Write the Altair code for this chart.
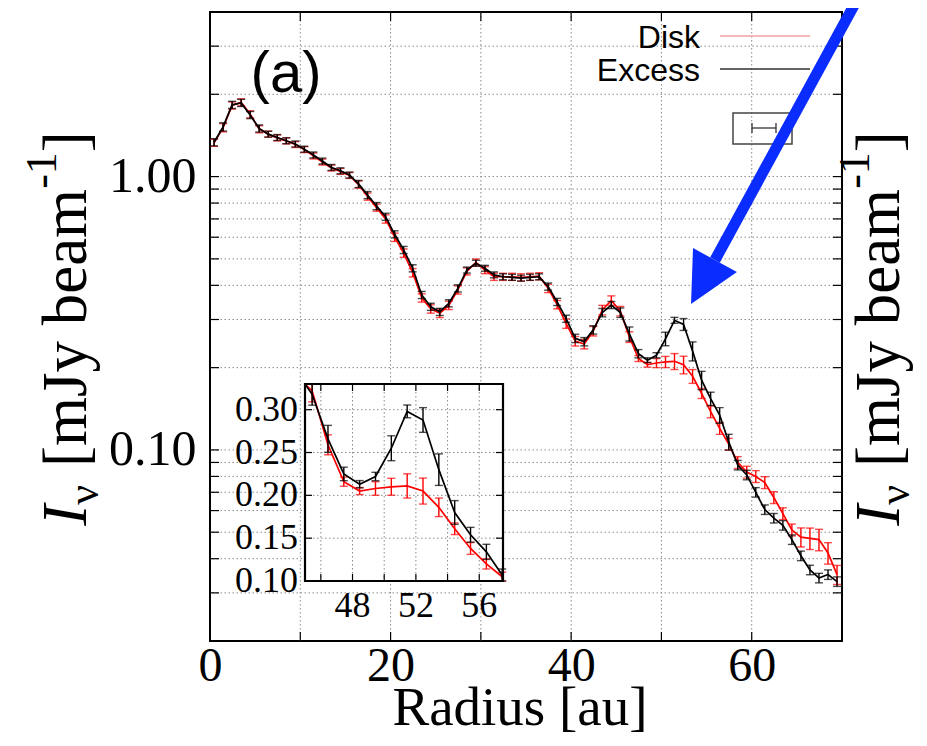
import altair as alt
import pandas as pd

# ---------------- data ----------------
RADIUS = [0.45, 1.45, 2.45, 3.45, 4.45, 5.45, 6.45, 7.45, 8.45, 9.45,
          10.45, 11.45, 12.45, 13.45, 14.45, 15.45, 16.45, 17.45, 18.45, 19.45,
          20.45, 21.45, 22.45, 23.45, 24.45, 25.45, 26.45, 27.45, 28.45, 29.45,
          30.45, 31.45, 32.45, 33.45, 34.45, 35.45, 36.45, 37.45, 38.45, 39.45,
          40.45, 41.45, 42.45, 43.45, 44.45, 45.45, 46.45, 47.45, 48.45, 49.45,
          50.45, 51.45, 52.45, 53.45, 54.45, 55.45, 56.45, 57.45, 58.45, 59.45,
          60.45, 61.45, 62.45, 63.45, 64.45, 65.45, 66.45, 67.45, 68.45, 69.45]

EXCESS = [1.335, 1.52, 1.83, 1.86, 1.68, 1.50, 1.43, 1.39, 1.353, 1.316,
          1.26, 1.20, 1.14, 1.08, 1.05, 1.013, 0.94, 0.856, 0.78, 0.713,
          0.615, 0.539, 0.462, 0.369, 0.334, 0.320, 0.344, 0.390, 0.455, 0.482,
          0.462, 0.437, 0.430, 0.428, 0.425, 0.428, 0.430, 0.396, 0.348, 0.302,
          0.256, 0.249, 0.275, 0.318, 0.339, 0.318, 0.266, 0.225, 0.213, 0.222,
          0.255, 0.298, 0.288, 0.230, 0.180, 0.154, 0.134, 0.107, 0.088, 0.081,
          0.070, 0.0605, 0.0563, 0.053, 0.047, 0.041, 0.0364, 0.034, 0.035, 0.033]

DISK = [1.33, 1.51, 1.82, 1.87, 1.69, 1.49, 1.43, 1.385, 1.35, 1.31,
        1.255, 1.19, 1.13, 1.075, 1.045, 1.01, 0.935, 0.845, 0.77, 0.70,
        0.60, 0.525, 0.445, 0.36, 0.328, 0.316, 0.338, 0.385, 0.45, 0.485,
        0.455, 0.43, 0.43, 0.43, 0.428, 0.43, 0.432, 0.39, 0.34, 0.29,
        0.25, 0.244, 0.272, 0.325, 0.352, 0.322, 0.259, 0.216, 0.205, 0.208,
        0.210, 0.211, 0.205, 0.186, 0.161, 0.138, 0.120, 0.105, 0.090, 0.083,
        0.080, 0.076, 0.067, 0.0585, 0.051, 0.048, 0.0475, 0.047, 0.042, 0.035]

# relative (fractional) error-bar half lengths
EXCESS_ERR = [0.03, 0.035, 0.03, 0.03, 0.03, 0.03, 0.025, 0.025, 0.025, 0.025,
              0.025, 0.025, 0.025, 0.025, 0.025, 0.025, 0.03, 0.03, 0.03, 0.03,
              0.03, 0.03, 0.03, 0.03, 0.03, 0.03, 0.03, 0.03, 0.025, 0.025,
              0.025, 0.025, 0.025, 0.025, 0.025, 0.025, 0.025, 0.03, 0.03, 0.03,
              0.035, 0.035, 0.035, 0.035, 0.03, 0.04, 0.059, 0.035, 0.02, 0.022,
              0.057, 0.025, 0.05, 0.08, 0.077, 0.056, 0.066, 0.066, 0.04, 0.04,
              0.04, 0.04, 0.04, 0.04, 0.04, 0.04, 0.04, 0.04, 0.04, 0.04]

DISK_ERR = [0.03, 0.035, 0.03, 0.03, 0.03, 0.03, 0.025, 0.025, 0.025, 0.025,
            0.025, 0.025, 0.025, 0.025, 0.025, 0.025, 0.03, 0.03, 0.03, 0.035,
            0.035, 0.035, 0.035, 0.035, 0.035, 0.035, 0.035, 0.035, 0.03, 0.03,
            0.03, 0.03, 0.03, 0.03, 0.03, 0.03, 0.03, 0.035, 0.035, 0.04,
            0.04, 0.04, 0.04, 0.04, 0.04, 0.04, 0.045, 0.025, 0.02, 0.038,
            0.047, 0.067, 0.074, 0.058, 0.042, 0.05, 0.05, 0.05, 0.05, 0.05,
            0.05, 0.05, 0.05, 0.05, 0.05, 0.08, 0.09, 0.09, 0.09, 0.08]

X_LABELS = [0, 20, 40, 60]
Y_LABELS = [0.1, 1.0]
X_GRID = [10, 20, 30, 40, 50, 60]
Y_GRID = [0.03, 0.04, 0.05, 0.06, 0.07, 0.08, 0.09,
          0.1, 0.2, 0.3, 0.4, 0.5, 0.6, 0.7, 0.8, 0.9, 1.0, 2.0, 3.0]
INSET_X_GRID = [46, 48, 50, 52, 54, 56]
INSET_X_LABELS = [48, 52, 56]
INSET_Y_VALUES = [0.10, 0.15, 0.20, 0.25, 0.30]
INSET_Y_TEXT = ["0.10", "0.15", "0.20", "0.25", "0.30"]
SERIES = ["Disk", "Excess"]
COLORS = ["#ff0000", "#000000"]

rows = []
for name, vals, errs in [("Disk", DISK, DISK_ERR), ("Excess", EXCESS, EXCESS_ERR)]:
    for r, v, e in zip(RADIUS, vals, errs):
        rows.append({"series": name, "r": r, "v": v, "lo": v * (1 - e), "hi": v * (1 + e)})
df = pd.DataFrame(rows)

# ---------------- layout ----------------
W, H = 632, 629
SERIF = "Liberation Serif"
SANS = "Liberation Sans"
GRID = "#8a8a8a"
DASH = [1.5, 2.5]
DUMMY = alt.Data(values=[{"a": 1}])

XS = alt.Scale(domain=[0, 70], nice=False, zero=False)
YS = alt.Scale(type="log", domain=[0.02, 4], nice=False)
X_AX = alt.Axis(values=X_LABELS, format="d", title=None, grid=False, ticks=False, tickSize=0,
                domain=False, labelFont=SERIF, labelFontSize=48, labelColor="black",
                labelPadding=1, labelFlush=False, labelOverlap=False)
Y_AX = alt.Axis(values=Y_LABELS, format=".2f", title=None, grid=False, ticks=False, tickSize=0,
                domain=False, labelFont=SERIF, labelFontSize=50, labelColor="black",
                labelPadding=14, labelOverlap=False)

# inset placed inside the plot area through explicit pixel ranges
IX0, IX1, IY0, IY1 = 95, 293, 372, 569
IXS = alt.Scale(domain=[45, 57.5], range=[IX0, IX1], clamp=True, nice=False, zero=False)
IYS = alt.Scale(domain=[0.10, 0.33], range=[IY1, IY0], clamp=True, nice=False, zero=False)


def series_layers(d_line, d_err, color, xs, ys, xax, yax, cap):
    X = alt.X("r:Q", scale=xs, axis=xax)
    bars = alt.Chart(d_err).mark_rule(color=color, strokeWidth=1.4).encode(
        x=X, y=alt.Y("lo:Q", scale=ys, axis=yax), y2="hi:Q")
    lo = alt.Chart(d_err).mark_tick(color=color, orient="horizontal", size=cap, thickness=1.4).encode(
        x=X, y=alt.Y("lo:Q", scale=ys, axis=yax))
    hi = alt.Chart(d_err).mark_tick(color=color, orient="horizontal", size=cap, thickness=1.4).encode(
        x=X, y=alt.Y("hi:Q", scale=ys, axis=yax))
    line = alt.Chart(d_line).mark_line(color=color, strokeWidth=1.7).encode(
        x=X, y=alt.Y("v:Q", scale=ys, axis=yax))
    return [bars, lo, hi, line]


def label(text, x, y, size, font=SERIF, align="center", baseline="alphabetic",
          angle=0, style="normal", color="black"):
    return alt.Chart(DUMMY).mark_text(
        text=text, font=font, fontSize=size, align=align, baseline=baseline,
        angle=angle, fontStyle=style, color=color).encode(x=alt.value(x), y=alt.value(y))


# ---------------- main panel ----------------
xg = pd.DataFrame({"g": X_GRID})
yg = pd.DataFrame({"g": Y_GRID})
main_layers = [
    alt.Chart(xg).mark_rule(color=GRID, strokeDash=DASH, strokeWidth=1).encode(
        x=alt.X("g:Q", scale=XS, axis=X_AX)),
    alt.Chart(yg).mark_rule(color=GRID, strokeDash=DASH, strokeWidth=1).encode(
        y=alt.Y("g:Q", scale=YS, axis=Y_AX)),
    # inward ticks
    alt.Chart(yg).mark_rule(color="black", strokeWidth=1.2).encode(
        y=alt.Y("g:Q", scale=YS, axis=Y_AX), x=alt.value(0), x2=alt.value(9)),
    alt.Chart(yg).mark_rule(color="black", strokeWidth=1.2).encode(
        y=alt.Y("g:Q", scale=YS, axis=Y_AX), x=alt.value(W - 9), x2=alt.value(W)),
    alt.Chart(xg).mark_rule(color="black", strokeWidth=1.2).encode(
        x=alt.X("g:Q", scale=XS, axis=X_AX), y=alt.value(H - 9), y2=alt.value(H)),
    alt.Chart(xg).mark_rule(color="black", strokeWidth=1.2).encode(
        x=alt.X("g:Q", scale=XS, axis=X_AX), y=alt.value(0), y2=alt.value(9)),
]
for name, color in zip(SERIES, COLORS):
    d = df[df.series == name]
    main_layers += series_layers(d, d, color, XS, YS, X_AX, Y_AX, 8)
main = alt.layer(*main_layers)

# ---------------- inset panel ----------------
inset_layers = [
    alt.Chart(DUMMY).mark_rect(fill="white", strokeWidth=0).encode(
        x=alt.value(IX0), x2=alt.value(IX1), y=alt.value(IY0), y2=alt.value(IY1)),
    alt.Chart(pd.DataFrame({"g": INSET_X_GRID})).mark_rule(color=GRID, strokeDash=DASH, strokeWidth=1).encode(
        x=alt.X("g:Q", scale=IXS, axis=None), y=alt.value(IY0), y2=alt.value(IY1)),
    alt.Chart(pd.DataFrame({"g": INSET_Y_VALUES[1:]})).mark_rule(color=GRID, strokeDash=DASH, strokeWidth=1).encode(
        y=alt.Y("g:Q", scale=IYS, axis=None), x=alt.value(IX0), x2=alt.value(IX1)),
    alt.Chart(pd.DataFrame({"g": INSET_Y_VALUES[1:]})).mark_rule(color="black", strokeWidth=1.2).encode(
        y=alt.Y("g:Q", scale=IYS, axis=None), x=alt.value(IX0), x2=alt.value(IX0 + 7)),
    alt.Chart(pd.DataFrame({"g": INSET_Y_VALUES[1:]})).mark_rule(color="black", strokeWidth=1.2).encode(
        y=alt.Y("g:Q", scale=IYS, axis=None), x=alt.value(IX1 - 7), x2=alt.value(IX1)),
    alt.Chart(pd.DataFrame({"g": INSET_X_GRID})).mark_rule(color="black", strokeWidth=1.2).encode(
        x=alt.X("g:Q", scale=IXS, axis=None), y=alt.value(IY1 - 7), y2=alt.value(IY1)),
    alt.Chart(pd.DataFrame({"g": INSET_X_GRID})).mark_rule(color="black", strokeWidth=1.2).encode(
        x=alt.X("g:Q", scale=IXS, axis=None), y=alt.value(IY0), y2=alt.value(IY0 + 7)),
]
for name, color in zip(SERIES, COLORS):
    d = df[df.series == name]
    d_line = d[(d.r > 44) & (d.r < 59)]
    d_err = d[(d.r > 45) & (d.r < 57.5)]
    inset_layers += series_layers(d_line, d_err, color, IXS, IYS, None, None, 8)
inset_layers += [
    alt.Chart(DUMMY).mark_rect(fillOpacity=0, stroke="black", strokeWidth=2.2).encode(
        x=alt.value(IX0), x2=alt.value(IX1), y=alt.value(IY0), y2=alt.value(IY1)),
    alt.Chart(pd.DataFrame({"val": INSET_Y_VALUES, "lab": INSET_Y_TEXT})).mark_text(
        align="right", baseline="middle", font=SERIF, fontSize=36, color="black").encode(
        y=alt.Y("val:Q", scale=IYS, axis=None), x=alt.value(IX0 - 7), text="lab:N"),
    alt.Chart(pd.DataFrame({"val": INSET_X_LABELS})).mark_text(
        align="center", baseline="middle", font=SERIF, fontSize=36, color="black").encode(
        x=alt.X("val:Q", scale=IXS, axis=None), y=alt.value(IY1 + 25), text=alt.Text("val:Q", format="d")),
]

# ---------------- annotations ----------------
ann = []
# legend
ann.append(label("Disk", 490, 36, 32, font=SANS, align="right"))
ann.append(label("Excess", 490, 69, 32, font=SANS, align="right"))
ann.append(alt.Chart(DUMMY).mark_rule(color="#f4a0a0", strokeWidth=1.5).encode(
    x=alt.value(510), x2=alt.value(600), y=alt.value(24)))
ann.append(alt.Chart(DUMMY).mark_rule(color="#303030", strokeWidth=1.5).encode(
    x=alt.value(510), x2=alt.value(600), y=alt.value(57)))
# error-bar key box
ann.append(alt.Chart(DUMMY).mark_rect(fillOpacity=0, stroke="#444444", strokeWidth=1.5).encode(
    x=alt.value(523), x2=alt.value(582), y=alt.value(101), y2=alt.value(132)))
ann.append(alt.Chart(DUMMY).mark_rule(color="#333333", strokeWidth=1.3).encode(
    x=alt.value(542), x2=alt.value(566), y=alt.value(116)))
ann.append(alt.Chart(DUMMY).mark_rule(color="#333333", strokeWidth=1.3).encode(
    x=alt.value(542), y=alt.value(111), y2=alt.value(121)))
ann.append(alt.Chart(DUMMY).mark_rule(color="#333333", strokeWidth=1.3).encode(
    x=alt.value(566), y=alt.value(111), y2=alt.value(121)))
# panel tag
ann.append(label("(a)", 76, 80, 58, font=SANS))
# blue arrow
BLUE = "#0a2cff"
ann.append(alt.Chart(DUMMY).mark_rule(color=BLUE, strokeWidth=11, strokeCap="butt").encode(
    x=alt.value(648), y=alt.value(-14), x2=alt.value(505), y2=alt.value(248)))
ann.append(alt.Chart(DUMMY).mark_point(shape="M0,1L-1,-1L1,-1Z", size=2500, filled=True,
                                       color=BLUE, opacity=1, angle=28.6, strokeWidth=0).encode(
    x=alt.value(493), y=alt.value(270)))
# x title
ann.append(label("Radius [au]", 310, 713, 55))


# rotated y titles (left and right)
def ytitle(xb, sub_shift):
    F, f = 63, 44
    pieces = [("I", F, "italic", 0, 0.333 * F),
              ("\u03bd", f, "normal", sub_shift, 0.5 * f),
              (None, 0, "", 0, 0.25 * F),
              ("[mJy beam", F, "normal", 0, 4.416 * F),
              ("-1", f, "normal", -30, 0.833 * f),
              ("]", F, "normal", 0, 0.333 * F)]
    total = sum(p[4] for p in pieces)
    y = H / 2 + 2 + total / 2
    out = []
    for text, size, style, shift, w in pieces:
        if text is not None:
            out.append(label(text, xb + shift, y, size, align="left", angle=270, style=style))
        y -= w
    return out


ann += ytitle(-124, 12)
ann += ytitle(689, 10)

inset = alt.layer(*(inset_layers + ann))

chart = alt.layer(main, inset).resolve_scale(x="independent", y="independent").properties(
    width=W, height=H,
    padding={"left": 202, "top": 4, "right": 77, "bottom": 97},
    autosize=alt.AutoSizeParams(type="none"),
    background="white",
).configure_view(stroke="black", strokeWidth=2)

chart.save("out.html", embed_options={"renderer": "svg", "actions": False})
